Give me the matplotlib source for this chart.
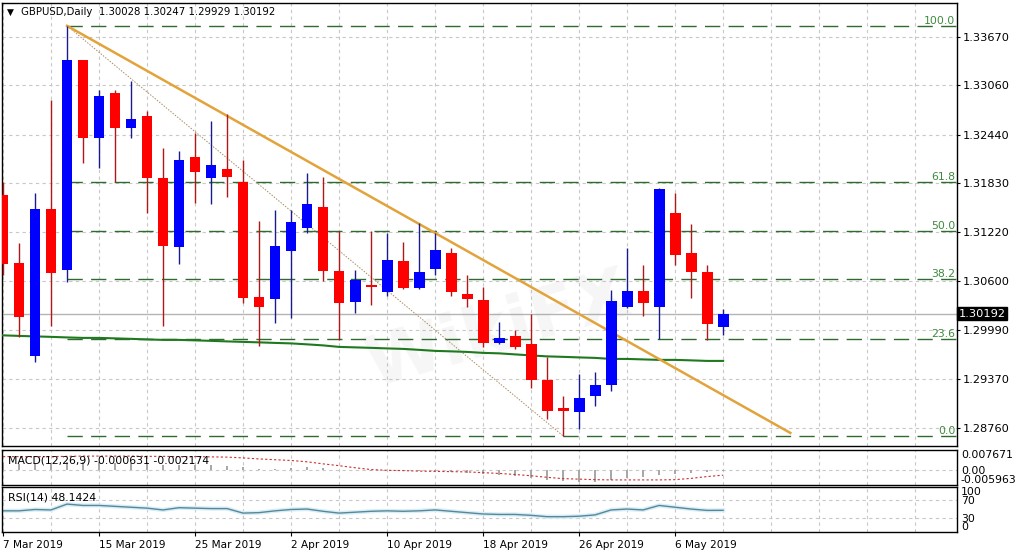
import matplotlib
matplotlib.use('Agg')
import matplotlib.pyplot as plt

# GBPUSD daily, 7 Mar 2019 .. 9 May 2019 (one entry per bar)
symbol = 'GBPUSD,Daily'
date_labels = ['7 Mar 2019', '15 Mar 2019', '25 Mar 2019', '2 Apr 2019',
               '10 Apr 2019', '18 Apr 2019', '26 Apr 2019', '6 May 2019']
date_bars = [0, 6, 12, 18, 24, 30, 36, 42]

opens = [1.31686, 1.30832, 1.29664, 1.31510, 1.30744, 1.33381, 1.32402, 1.32967,
         1.32527, 1.32678, 1.31900, 1.31033, 1.32163, 1.31900, 1.32013, 1.31849,
         1.30405, 1.30380, 1.30983, 1.31272, 1.31535, 1.30732, 1.30342, 1.30556,
         1.30468, 1.30857, 1.30518, 1.30757, 1.30958, 1.30443, 1.30367, 1.29827,
         1.29915, 1.29815, 1.29363, 1.29011, 1.28961, 1.29162, 1.29300, 1.30280,
         1.30480, 1.30280, 1.31460, 1.30958, 1.30719, 1.30028]
highs = [1.31849, 1.31083, 1.31711, 1.32879, 1.33808, 1.33381, 1.33005, 1.33005,
         1.33118, 1.32741, 1.32276, 1.32239, 1.32465, 1.32615, 1.32703, 1.32126,
         1.31360, 1.31498, 1.31498, 1.31962, 1.31912, 1.31234, 1.30744, 1.31234,
         1.31209, 1.31096, 1.31334, 1.31209, 1.31020, 1.30681, 1.30531, 1.30091,
         1.29991, 1.30192, 1.29652, 1.29162, 1.29438, 1.29463, 1.30493, 1.31020,
         1.30807, 1.31774, 1.31711, 1.31322, 1.30807, 1.30247]
lows = [1.30681, 1.29903, 1.29589, 1.30041, 1.30593, 1.32088, 1.32025, 1.31849,
        1.32402, 1.31460, 1.30041, 1.30819, 1.31586, 1.31573, 1.31661, 1.30330,
        1.29790, 1.30079, 1.30141, 1.31209, 1.30606, 1.29865, 1.30204, 1.30305,
        1.30418, 1.30506, 1.30506, 1.30681, 1.30418, 1.30280, 1.29777, 1.29815,
        1.29752, 1.29262, 1.28873, 1.28660, 1.28747, 1.29036, 1.29225, 1.30267,
        1.30166, 1.29878, 1.30807, 1.30393, 1.29865, 1.29929]
closes = [1.30819, 1.30154, 1.31510, 1.30706, 1.33381, 1.32402, 1.32929, 1.32527,
          1.32640, 1.31900, 1.31046, 1.32126, 1.31975, 1.32063, 1.31912, 1.30393,
          1.30280, 1.31046, 1.31347, 1.31573, 1.30732, 1.30330, 1.30619, 1.30531,
          1.30870, 1.30518, 1.30719, 1.30995, 1.30468, 1.30380, 1.29827, 1.29890,
          1.29777, 1.29363, 1.28974, 1.28974, 1.29137, 1.29300, 1.30355, 1.30480,
          1.30330, 1.31761, 1.30932, 1.30719, 1.30066, 1.30192]

# slow moving average (green)
ma_line = [1.29922, 1.29915, 1.29909, 1.29903, 1.29896, 1.29890, 1.29890, 1.29884,
           1.29878, 1.29871, 1.29865, 1.29865, 1.29859, 1.29853, 1.29846, 1.29840,
           1.29834, 1.29827, 1.29821, 1.29809, 1.29796, 1.29777, 1.29771, 1.29765,
           1.29758, 1.29752, 1.29740, 1.29727, 1.29721, 1.29714, 1.29702, 1.29696,
           1.29683, 1.29670, 1.29658, 1.29652, 1.29645, 1.29639, 1.29626, 1.29626,
           1.29620, 1.29614, 1.29614, 1.29608, 1.29601, 1.29601]

macd_main = [0.0026, 0.0022, 0.0024, 0.0025, 0.0030, 0.0029, 0.0028, 0.0026,
             0.0025, 0.0022, 0.0018, 0.0018, 0.0017, 0.0016, 0.0015, 0.0008,
             0.0003, 0.0004, 0.0006, 0.0008, 0.0005, -0.0001, -0.0003, -0.0004,
             -0.0003, -0.0005, -0.0006, -0.0006, -0.0009, -0.0012, -0.0018, -0.0021,
             -0.0024, -0.0031, -0.0039, -0.0044, -0.0047, -0.0047, -0.0040, -0.0034,
             -0.0030, -0.0021, -0.0016, -0.0013, -0.0011, -0.000631]
macd_signal = [0.0050, 0.0050, 0.0050, 0.0050, 0.0051, 0.0052, 0.0052, 0.0052,
               0.0052, 0.0051, 0.0051, 0.0050, 0.0050, 0.0049, 0.0048, 0.0045,
               0.0041, 0.0038, 0.0035, 0.0030, 0.0022, 0.0015, 0.0007, 0.0000,
               -0.0003, -0.0004, -0.0006, -0.0007, -0.0008, -0.0009, -0.0012, -0.0015,
               -0.0019, -0.0024, -0.0030, -0.0035, -0.0037, -0.0039, -0.0040, -0.0040,
               -0.0040, -0.0040, -0.0039, -0.0034, -0.0027, -0.002174]
macd_range = [-0.005963, 0.007671]

rsi = [47, 47, 50, 49, 62, 59, 59, 57, 55, 53, 49, 54, 53, 52, 52, 42,
       43, 47, 50, 51, 46, 42, 44, 46, 47, 46, 47, 49, 46, 43, 40, 39,
       39, 37, 34, 34, 35, 38, 49, 51, 49, 59, 55, 51, 48, 48.1424]

price_ticks = [1.28760, 1.29370, 1.29990, 1.30600, 1.31220, 1.31830, 1.32440, 1.33060, 1.33670]

# fibonacci retracement anchors (high of 13 Mar, low of 25 Apr)
fib_from_bar, fib_to_bar = 4, 35
fib_levels = [0.0, 23.6, 38.2, 50.0, 61.8, 100.0]

# hand drawn falling trendline
trend_bars = [4, 49.2]
trend_prices = [1.33808, 1.28697]

n = len(closes)
bars = list(range(n))
xmin, xmax = -0.06, 59.6
grid_kw = dict(color='#c8c8c8', linestyle=(0, (3, 3)), linewidth=0.8)

fig = plt.figure(figsize=(10.2, 5.56), dpi=100)
ax = fig.add_axes([0.002, 0.198, 0.936, 0.797])
ax_macd = fig.add_axes([0.002, 0.1277, 0.936, 0.0635])
ax_rsi = fig.add_axes([0.002, 0.0432, 0.936, 0.0809])

for a in (ax, ax_macd, ax_rsi):
    a.set_xlim(xmin, xmax)
    for s in a.spines.values():
        s.set_color('black')
        s.set_linewidth(1)
    for g in range(0, 60, 3):
        a.axvline(g, zorder=0, **grid_kw)
    a.set_xticks([])

# ---- main price panel
ax.set_ylim(1.28534, 1.34097)
for p in price_ticks:
    ax.axhline(p, zorder=0, **grid_kw)
ax.yaxis.tick_right()
ax.set_yticks(price_ticks)
ax.set_yticklabels(['%.5f' % p for p in price_ticks])
ax.tick_params(axis='y', direction='out', length=2.5, pad=1.5, labelsize=8.2)

# current price line
ax.axhline(closes[-1], color='#b4b4b4', lw=1, zorder=1)

# fibonacci
hi = highs[fib_from_bar]
lo = lows[fib_to_bar]
for lvl in fib_levels:
    p = lo + (hi - lo) * lvl / 100.0
    ax.hlines(p, fib_from_bar, xmax, color='#2f6b2f', linestyle=(0, (11, 6)), lw=1, zorder=2)
    ax.text(xmax - 0.1, p, '%.1f' % lvl, ha='right', va='bottom', color='#3d8a3d', fontsize=7.8, zorder=5)
ax.plot([fib_from_bar, fib_to_bar], [hi, lo], color='#a88c60', lw=0.7, ls=(0, (1.5, 1.5)), zorder=2)

# moving average + trendline
ax.plot(bars, ma_line, color='#1f7a1f', lw=1.5, zorder=3)
ax.plot(trend_bars, trend_prices, color='#e3a33b', lw=1.8, zorder=4)

# candles
for i in bars:
    o, h, l, c = opens[i], highs[i], lows[i], closes[i]
    up = c >= o
    body_col = '#0000ff' if up else '#ff0000'
    wick_col = '#1a1a90' if up else '#b01818'
    ax.vlines(i, l, h, color=wick_col, lw=1, zorder=5)
    ax.bar(i, max(abs(c - o), 0.00012), bottom=min(o, c), width=0.68,
           color=body_col, lw=0, zorder=6)

# last price tag
ax.text(1.002, closes[-1], '%.5f' % closes[-1], transform=ax.get_yaxis_transform(),
        color='white', fontsize=8.2, va='center', ha='left', clip_on=False,
        bbox=dict(boxstyle='square,pad=0.12', fc='black', ec='black'))

# header
fig.text(0.007, 1 - 12 / 556, '\u25bc', fontsize=6.5, va='center', ha='left')
fig.text(0.021, 1 - 12 / 556, '%s  %.5f %.5f %.5f %.5f' % (symbol, opens[-1], highs[-1], lows[-1], closes[-1]),
         fontsize=7.3, va='center', ha='left')

# watermark
ax.text(31, 1.2998, 'WikiFX', fontsize=50, fontweight='bold', color='#909090',
        alpha=0.08, rotation=16, ha='center', va='center', zorder=1)

# ---- MACD panel
ax_macd.set_ylim(macd_range[0], macd_range[1])
ax_macd.axhline(0, zorder=0, **grid_kw)
ax_macd.bar(bars, macd_main, width=0.16, color='#a8a8a8', lw=0, zorder=2)
ax_macd.plot(bars, macd_signal, color='#cc3030', lw=0.8, ls=(0, (2, 2)), zorder=3)
ax_macd.yaxis.tick_right()
ax_macd.set_yticks([macd_range[1], 0, macd_range[0]])
ax_macd.set_yticklabels(['%.6f' % macd_range[1], '0.00', '%.6f' % macd_range[0]])
ax_macd.tick_params(axis='y', direction='out', length=0, pad=3, labelsize=7.8)
ml = ax_macd.get_yticklabels()
ml[0].set_va('top')
ml[2].set_va('bottom')
ax_macd.text(0.006, 0.70, 'MACD(12,26,9) %.6f %.6f' % (macd_main[-1], macd_signal[-1]),
             transform=ax_macd.transAxes, fontsize=7.8, va='center', ha='left', zorder=5)

# ---- RSI panel
ax_rsi.set_ylim(0, 100)
for lv in (70, 30):
    ax_rsi.axhline(lv, zorder=0, **grid_kw)
ax_rsi.plot(bars, rsi, color='#d6eef8', lw=3, zorder=1)
ax_rsi.plot(bars, rsi, color='#5a8798', lw=1, zorder=2)
ax_rsi.yaxis.tick_right()
ax_rsi.set_yticks([100, 70, 30, 0])
ax_rsi.set_yticklabels(['100', '70', '30', '0'])
ax_rsi.tick_params(axis='y', direction='out', length=0, pad=3, labelsize=7.8)
rl = ax_rsi.get_yticklabels()
rl[0].set_va('top')
rl[3].set_va('bottom')
ax_rsi.text(0.006, 0.77, 'RSI(14) %.4f' % rsi[-1], transform=ax_rsi.transAxes,
            fontsize=7.8, va='center', ha='left', zorder=5)

ax_rsi.set_xticks(date_bars)
ax_rsi.set_xticklabels(date_labels, ha='left')
ax_rsi.tick_params(axis='x', direction='out', length=3, pad=3, labelsize=7.6)

fig.savefig('out.png', dpi=100)
